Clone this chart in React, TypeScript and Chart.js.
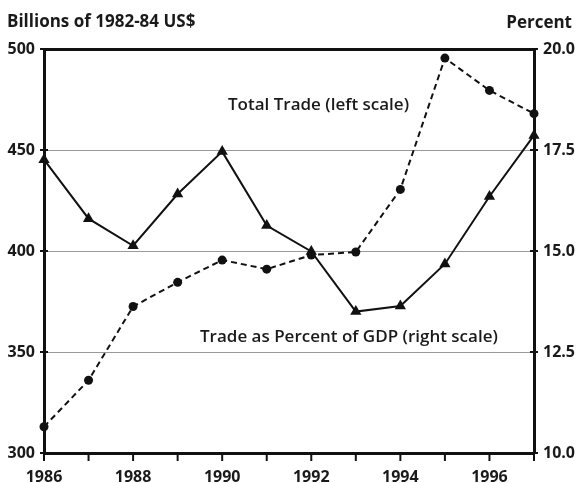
import React, { useEffect, useRef } from "react";
import { Chart, registerables } from "chart.js";

Chart.register(...registerables);

const years = [1986, 1987, 1988, 1989, 1990, 1991, 1992, 1993, 1994, 1995, 1996, 1997];
const totalTrade = [313, 336, 372.5, 384.5, 395.5, 391, 398, 399.5, 430.5, 495.5, 479.5, 468];
const tradePctGDP = [17.26, 15.8, 15.13, 16.41, 17.46, 15.63, 14.99, 13.5, 13.64, 14.68, 16.35, 17.86];
const xTickLabels = [1986, 1988, 1990, 1992, 1994, 1996];
const leftTicks = [300, 350, 400, 450, 500];
const rightTicks = [10, 12.5, 15, 17.5, 20];

const FONT = "'Open Sans', Lato, sans-serif";

const decorPlugin = {
  id: "decor",
  afterDraw(chart: any) {
    const ctx = chart.ctx;
    const { left, right, bottom } = chart.chartArea;
    const yl = chart.scales.yLeft;
    const yr = chart.scales.yRight;
    const x = chart.scales.x;
    ctx.save();
    ctx.strokeStyle = "#111";
    ctx.lineWidth = 2;
    leftTicks.forEach((v) => {
      const py = yl.getPixelForValue(v);
      ctx.beginPath();
      ctx.moveTo(left - 4, py);
      ctx.lineTo(left + 4, py);
      ctx.stroke();
    });
    rightTicks.forEach((v) => {
      const py = yr.getPixelForValue(v);
      ctx.beginPath();
      ctx.moveTo(right - 4, py);
      ctx.lineTo(right + 4, py);
      ctx.stroke();
    });
    years.forEach((yv) => {
      const px = x.getPixelForValue(yv);
      ctx.beginPath();
      ctx.moveTo(px, bottom);
      ctx.lineTo(px, bottom + 8);
      ctx.stroke();
    });
    ctx.fillStyle = "#1a1a1a";
    ctx.font = `bold 16px ${FONT}`;
    ctx.textBaseline = "alphabetic";
    ctx.textAlign = "center";
    xTickLabels.forEach((yv) => {
      const px = x.getPixelForValue(yv);
      ctx.fillText(String(yv), px, 482);
    });
    ctx.font = `bold 17px ${FONT}`;
    ctx.textAlign = "left";
    ctx.fillText("Billions of 1982-84 US$", 7, 27);
    ctx.textAlign = "right";
    ctx.fillText("Percent", 572, 28);
    ctx.font = `600 17px ${FONT}`;
    ctx.textAlign = "left";
    ctx.fillText("Total Trade (left scale)", 228, 110);
    ctx.fillText("Trade as Percent of GDP (right scale)", 200, 342);
    ctx.restore();
  },
};

export default function App() {
  const ref = useRef<HTMLCanvasElement>(null);
  useEffect(() => {
    if (!ref.current) return;
    const chart = new Chart(ref.current, {
      type: "line",
      data: {
        datasets: [
          {
            label: "Total Trade (left scale)",
            data: years.map((y, i) => ({ x: y, y: totalTrade[i] })),
            yAxisID: "yLeft",
            borderColor: "#111",
            backgroundColor: "#111",
            borderWidth: 2,
            borderDash: [6, 4],
            pointStyle: "circle",
            pointRadius: 4.5,
            pointHoverRadius: 4.5,
            pointBorderWidth: 0,
            tension: 0,
            clip: false as any,
          },
          {
            label: "Trade as Percent of GDP (right scale)",
            data: years.map((y, i) => ({ x: y, y: tradePctGDP[i] })),
            yAxisID: "yRight",
            borderColor: "#111",
            backgroundColor: "#111",
            borderWidth: 2,
            pointStyle: "triangle",
            pointRadius: 6.5,
            pointHoverRadius: 6.5,
            pointBorderWidth: 0,
            tension: 0,
            clip: false as any,
          },
        ],
      },
      options: {
        responsive: false,
        animation: false,
        layout: { padding: { top: 49, left: 0, right: 0, bottom: 0 } },
        plugins: { legend: { display: false }, tooltip: { enabled: false } },
        scales: {
          x: {
            type: "linear",
            min: 1986,
            max: 1997,
            ticks: { display: false, stepSize: 1 },
            grid: { display: false },
            border: { display: true, color: "#111", width: 3 },
            afterFit(s: any) {
              s.height = 30;
            },
          },
          yLeft: {
            type: "linear",
            position: "left",
            min: 300,
            max: 500,
            ticks: {
              stepSize: 50,
              padding: 9,
              color: "#1a1a1a",
              font: { family: FONT, size: 16, weight: "bold" },
            },
            grid: {
              drawTicks: false,
              color: (c: any) => (c.tick.value === 500 ? "#111" : c.tick.value === 300 ? "transparent" : "#9a9a9a"),
              lineWidth: (c: any) => (c.tick.value === 500 ? 3 : 1),
            },
            border: { display: true, color: "#111", width: 3 },
            afterFit(s: any) {
              s.width = 44;
            },
          },
          yRight: {
            type: "linear",
            position: "right",
            min: 10,
            max: 20,
            ticks: {
              stepSize: 2.5,
              padding: 9,
              color: "#1a1a1a",
              font: { family: FONT, size: 16, weight: "bold" },
              callback: (v: any) => Number(v).toFixed(1),
            },
            grid: { drawOnChartArea: false, drawTicks: false },
            border: { display: true, color: "#111", width: 3 },
            afterFit(s: any) {
              s.width = 45;
            },
          },
        },
      },
      plugins: [decorPlugin],
    });
    return () => chart.destroy();
  }, []);
  return (
    <div style={{ position: "absolute", left: 0, top: 0, width: 579, height: 483, background: "#fff" }}>
      <canvas ref={ref} width={579} height={483} style={{ width: 579, height: 483 }} />
    </div>
  );
}
